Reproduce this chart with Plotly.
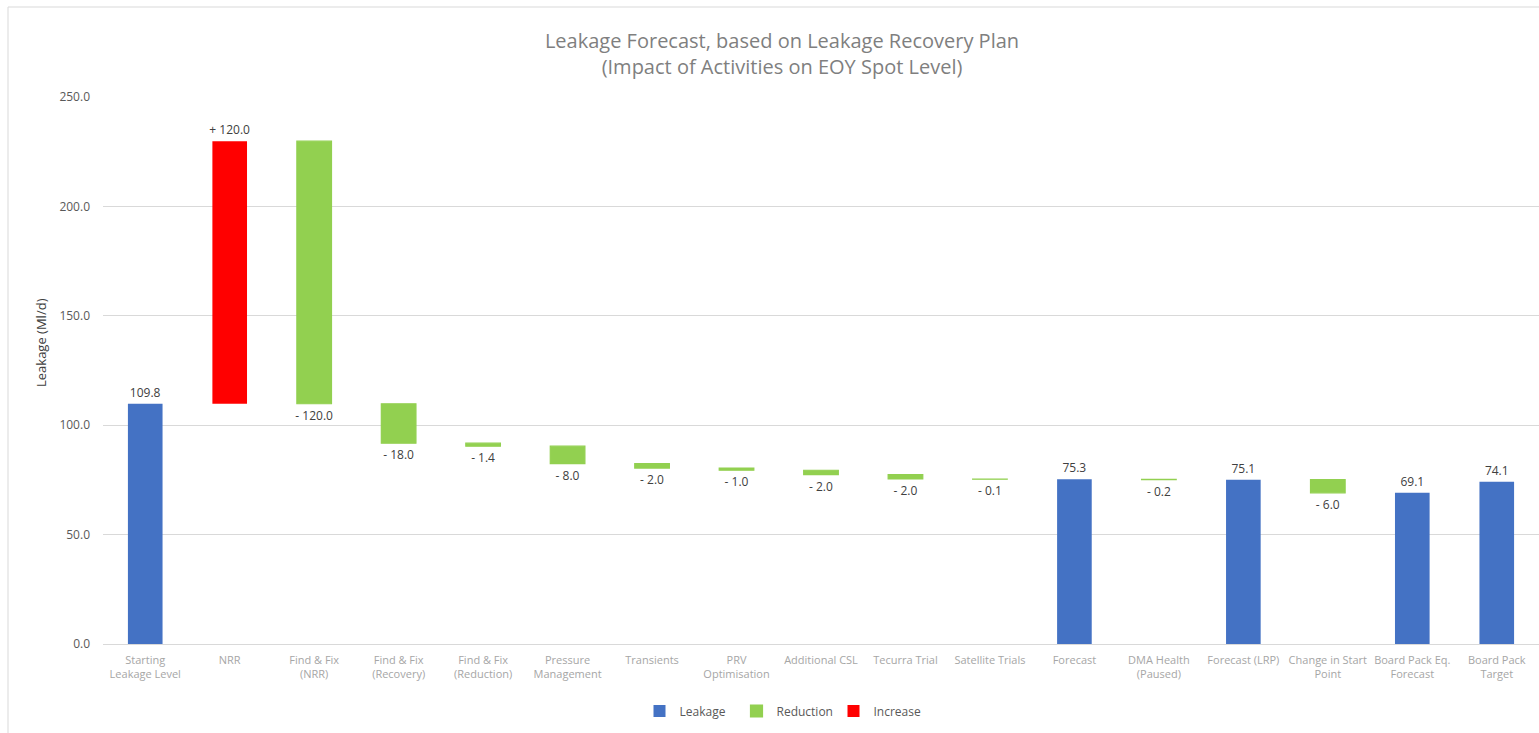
import plotly.graph_objects as go

categories = [
    "Starting<br>Leakage Level", "NRR", "Find & Fix<br>(NRR)", "Find & Fix<br>(Recovery)",
    "Find & Fix<br>(Reduction)", "Pressure<br>Management", "Transients", "PRV<br>Optimisation",
    "Additional CSL", "Tecurra Trial", "Satellite Trials", "Forecast", "DMA Health<br>(Paused)",
    "Forecast (LRP)", "Change in Start<br>Point", "Board Pack Eq.<br>Forecast", "Board Pack<br>Target",
]
values = [109.8, 120.0, -120.0, -18.0, -1.4, -8.0, -2.0, -1.0, -2.0, -2.0, -0.1,
          75.3, -0.2, 75.1, -6.0, 69.1, 74.1]
kinds = ["total", "inc", "dec", "dec", "dec", "dec", "dec", "dec", "dec", "dec", "dec",
         "total", "dec", "total", "dec", "total", "total"]
y_ticks = [0, 50, 100, 150, 200, 250]

BLUE, GREEN, RED = "#4472C4", "#92D050", "#FF0000"
LABEL_FONT = dict(family="Open Sans", size=12, color="#404040")

# running waterfall
tot_y, tot_b, tot_t = [], [], []
dec_y, dec_b, dec_t = [], [], []
inc_y, inc_b, inc_t = [], [], []
level = 0.0
for v, k in zip(values, kinds):
    for lst in (tot_y, tot_b, tot_t, dec_y, dec_b, dec_t, inc_y, inc_b, inc_t):
        lst.append(None)
    if k == "total":
        tot_y[-1], tot_b[-1], tot_t[-1] = v, 0, f"{v:.1f}"
        level = v
    elif k == "inc":
        inc_y[-1], inc_b[-1], inc_t[-1] = v, level, f"+ {abs(v):.1f}"
        level += v
    else:
        dec_y[-1], dec_b[-1], dec_t[-1] = v, level, f"- {abs(v):.1f}"
        level += v

fig = go.Figure()
for name, ys, bs, ts, col, lw in [("Leakage", tot_y, tot_b, tot_t, BLUE, 0),
                                  ("Reduction", dec_y, dec_b, dec_t, GREEN, 1.2),
                                  ("Increase", inc_y, inc_b, inc_t, RED, 0)]:
    fig.add_trace(go.Bar(
        x=categories, y=ys, base=bs, name=name,
        marker=dict(color=col, line=dict(width=lw, color=col)),
        width=0.41, text=ts, textposition="outside", textfont=LABEL_FONT,
        constraintext="none", cliponaxis=False, hoverinfo="skip",
    ))

W, H = 1539, 733
L, R, T, B = 103, 0, 97, 89
pw, ph = W - L - R, H - T - B

def px_to_paper_x(px):
    return (px - L) / pw

def px_to_paper_y(py):
    return (H - B - py) / ph

fig.update_layout(
    width=W, height=H, margin=dict(l=L, r=R, t=T, b=B),
    paper_bgcolor="white", plot_bgcolor="white",
    barmode="overlay",
    font=dict(family="Open Sans", color="#595959"),
    title=dict(
        text="Leakage Forecast, based on Leakage Recovery Plan<br>(Impact of Activities on EOY Spot Level)",
        x=782 / W, xref="container", xanchor="center",
        y=1 - 48 / H, yref="container", yanchor="middle",
        font=dict(family="Open Sans", size=20, color="#7f7f7f"),
    ),
    xaxis=dict(
        type="category", range=[-0.5, len(categories) - 0.5],
        showgrid=False, showline=False, zeroline=False, ticks="",
        tickfont=dict(family="Open Sans", size=11, color="#a6a6a6"),
        tickangle=0, automargin=False, ticklabelstandoff=8,
    ),
    yaxis=dict(
        range=[0, 250], tickvals=y_ticks, ticktext=[f"{v:.1f}" for v in y_ticks],
        showgrid=True, gridcolor="#d9d9d9", gridwidth=1,
        zeroline=True, zerolinecolor="#d9d9d9", zerolinewidth=1,
        showline=False, ticks="", ticklabelstandoff=12,
        tickfont=dict(family="Open Sans", size=12, color="#595959"),
        automargin=False,
    ),
    showlegend=True,
    legend=dict(
        orientation="h", xref="container", yref="container",
        x=785 / W, xanchor="center", y=1 - 711 / H, yanchor="middle",
        font=dict(family="Open Sans", size=12, color="#595959"),
        entrywidth=52, entrywidthmode="pixels", itemwidth=30,
        traceorder="normal",
    ),
    annotations=[dict(
        text="Leakage (Ml/d)", textangle=-90, showarrow=False,
        xref="paper", yref="paper", x=px_to_paper_x(41), y=px_to_paper_y(343),
        xanchor="center", yanchor="middle",
        font=dict(family="Open Sans", size=13, color="#404040"),
    )],
    shapes=[dict(
        type="rect", xref="paper", yref="paper", layer="below",
        x0=px_to_paper_x(8), x1=px_to_paper_x(W + 10),
        y0=px_to_paper_y(H + 10), y1=px_to_paper_y(7),
        line=dict(color="#d9d9d9", width=1), fillcolor="rgba(0,0,0,0)",
    )],
)

fig.write_html("out.html")
